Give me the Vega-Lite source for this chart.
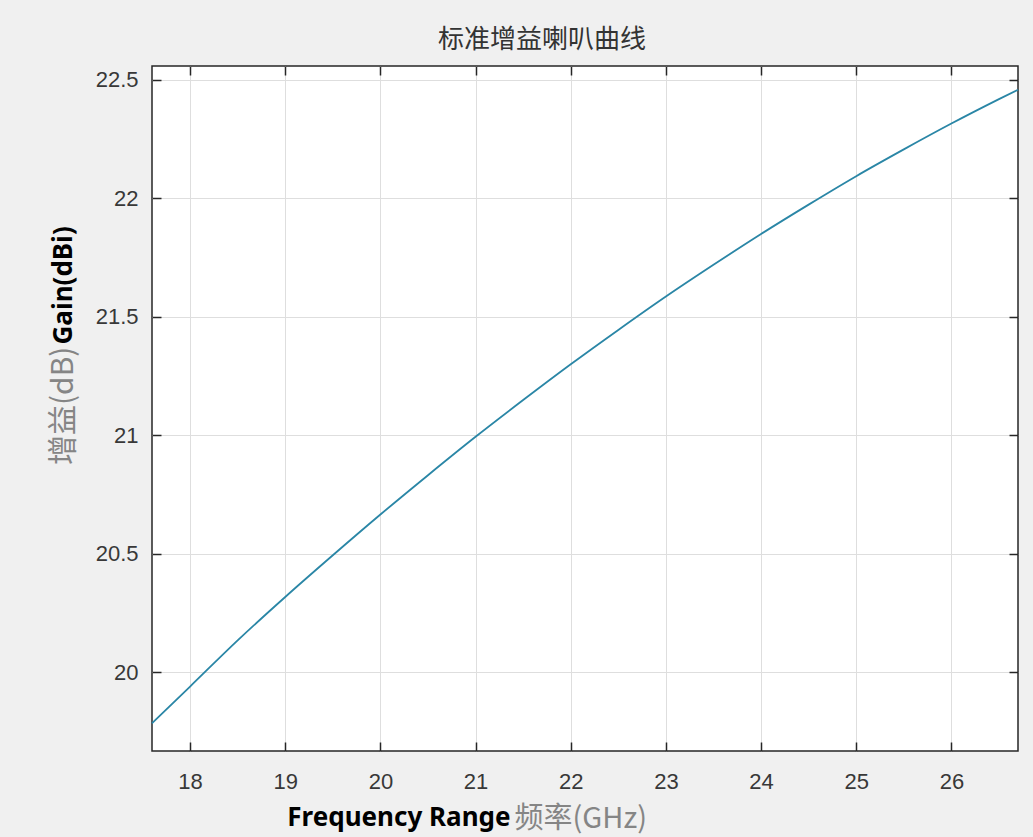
{
  "$schema": "https://vega.github.io/schema/vega-lite/v6.json",
  "width": 866,
  "height": 685,
  "autosize": {"type": "none"},
  "padding": {"left": 152, "top": 66, "right": 15, "bottom": 86},
  "background": "#f0f0f0",
  "config": {
    "view": {"fill": "white", "stroke": "#262626", "strokeWidth": 1.5}
  },
  "title": {
    "text": "标准增益喇叭曲线",
    "font": "Noto Sans CJK SC",
    "fontSize": 26,
    "fontWeight": "normal",
    "color": "#333333",
    "anchor": "middle",
    "dx": -43,
    "offset": 12
  },
  "data": {
    "values": [
      {"freq": 17.6, "gain": 19.785},
      {"freq": 18.0, "gain": 19.940},
      {"freq": 18.5, "gain": 20.135},
      {"freq": 19.0, "gain": 20.318},
      {"freq": 19.5, "gain": 20.494},
      {"freq": 20.0, "gain": 20.666},
      {"freq": 20.5, "gain": 20.832},
      {"freq": 21.0, "gain": 20.994},
      {"freq": 21.5, "gain": 21.149},
      {"freq": 22.0, "gain": 21.300},
      {"freq": 22.5, "gain": 21.445},
      {"freq": 23.0, "gain": 21.586},
      {"freq": 23.5, "gain": 21.720},
      {"freq": 24.0, "gain": 21.850},
      {"freq": 24.5, "gain": 21.974},
      {"freq": 25.0, "gain": 22.094},
      {"freq": 25.5, "gain": 22.207},
      {"freq": 26.0, "gain": 22.316},
      {"freq": 26.5, "gain": 22.419},
      {"freq": 26.7, "gain": 22.459}
    ]
  },
  "layer": [
    {
      "mark": {"type": "line", "color": "#2a86a6", "strokeWidth": 1.8, "interpolate": "monotone"},
      "encoding": {
        "x": {
          "field": "freq", "type": "quantitative",
          "scale": {"domain": [17.6, 26.7], "nice": false, "zero": false},
          "axis": {
            "orient": "bottom",
            "values": [18, 19, 20, 21, 22, 23, 24, 25, 26],
            "grid": true, "gridColor": "#dedede", "gridWidth": 1,
            "ticks": false, "domain": false,
            "labelFont": "Liberation Sans", "labelFontSize": 22, "labelColor": "#383838",
            "labelPadding": 20, "labelFlush": false,
            "title": "Frequency Range",
            "titleFont": "Noto Sans", "titleFontSize": 26, "titleFontWeight": "bold", "titleColor": "#000000",
            "titleAlign": "right", "titleX": 358, "titleY": 74, "titleBaseline": "alphabetic"
          }
        },
        "y": {
          "field": "gain", "type": "quantitative",
          "scale": {"domain": [19.668, 22.559], "nice": false, "zero": false},
          "axis": {
            "orient": "left",
            "values": [20, 20.5, 21, 21.5, 22, 22.5],
            "format": "~g",
            "grid": true, "gridColor": "#dedede", "gridWidth": 1,
            "ticks": false, "domain": false,
            "labelFont": "Liberation Sans", "labelFontSize": 22, "labelColor": "#383838",
            "labelPadding": 14, "labelFlush": false,
            "title": "Gain(dBi)",
            "titleFont": "Noto Sans", "titleFontSize": 26, "titleFontWeight": "bold", "titleColor": "#000000",
            "titleAngle": -90, "titleAlign": "left", "titleX": -89, "titleY": 278, "titleBaseline": "middle"
          }
        }
      }
    },
    {
      "mark": {"type": "line", "strokeOpacity": 0},
      "encoding": {
        "x": {
          "field": "freq", "type": "quantitative",
          "scale": {"domain": [17.6, 26.7], "nice": false, "zero": false},
          "axis": {
            "orient": "bottom", "offset": -9,
            "values": [18, 19, 20, 21, 22, 23, 24, 25, 26],
            "grid": false, "labels": false, "domain": false,
            "ticks": true, "tickSize": 9, "tickColor": "#262626", "tickWidth": 1.5,
            "title": "频率(GHz)",
            "titleFont": "Noto Sans CJK SC", "titleFontSize": 29, "titleFontWeight": "normal", "titleColor": "#858585",
            "titleAlign": "left", "titleX": 362, "titleY": 85, "titleBaseline": "alphabetic"
          }
        },
        "y": {
          "field": "gain", "type": "quantitative",
          "scale": {"domain": [19.668, 22.559], "nice": false, "zero": false},
          "axis": {
            "orient": "left", "offset": -9,
            "values": [20, 20.5, 21, 21.5, 22, 22.5],
            "grid": false, "labels": false, "domain": false,
            "ticks": true, "tickSize": 9, "tickColor": "#262626", "tickWidth": 1.5,
            "title": "增益(dB)",
            "titleFont": "Noto Sans CJK SC", "titleFontSize": 30, "titleFontWeight": "normal", "titleColor": "#858585",
            "titleAngle": -90, "titleAlign": "right", "titleX": -98, "titleY": 280, "titleBaseline": "middle"
          }
        }
      }
    },
    {
      "mark": {"type": "line", "strokeOpacity": 0},
      "encoding": {
        "x": {
          "field": "freq", "type": "quantitative",
          "scale": {"domain": [17.6, 26.7], "nice": false, "zero": false},
          "axis": {
            "orient": "top", "offset": -9,
            "values": [18, 19, 20, 21, 22, 23, 24, 25, 26],
            "grid": false, "labels": false, "domain": false,
            "ticks": true, "tickSize": 9, "tickColor": "#262626", "tickWidth": 1.5,
            "title": null
          }
        },
        "y": {
          "field": "gain", "type": "quantitative",
          "scale": {"domain": [19.668, 22.559], "nice": false, "zero": false},
          "axis": {
            "orient": "right", "offset": -9,
            "values": [20, 20.5, 21, 21.5, 22, 22.5],
            "grid": false, "labels": false, "domain": false,
            "ticks": true, "tickSize": 9, "tickColor": "#262626", "tickWidth": 1.5,
            "title": null
          }
        }
      }
    }
  ],
  "resolve": {"axis": {"x": "independent", "y": "independent"}}
}
